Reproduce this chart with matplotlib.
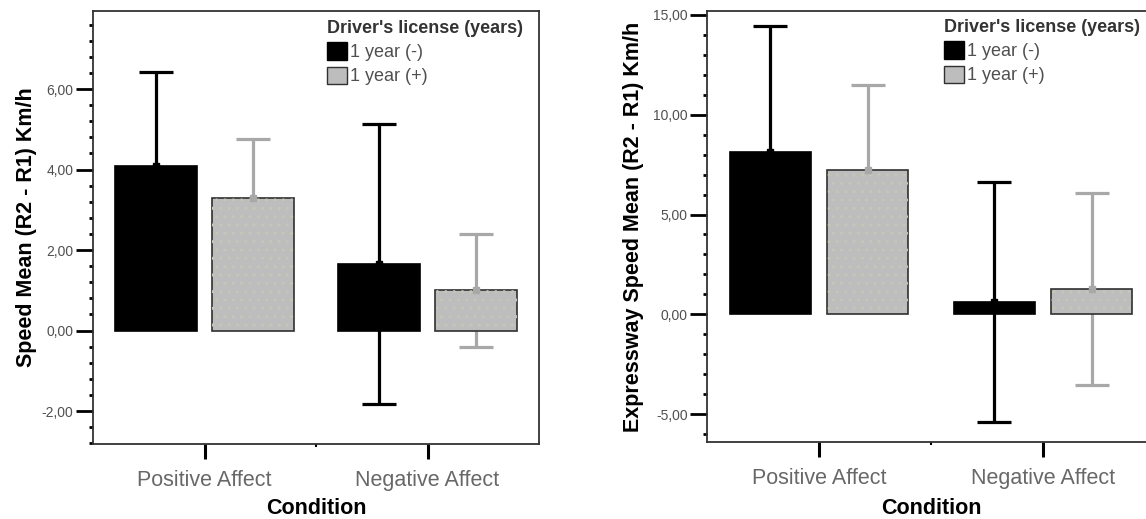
import numpy as np
import matplotlib
matplotlib.use("Agg")
import matplotlib.pyplot as plt
from matplotlib.patches import Patch
from matplotlib.ticker import MultipleLocator, FixedLocator

plt.rcParams['font.family'] = ['Liberation Sans', 'DejaVu Sans']
plt.rcParams['hatch.linewidth'] = 1.0

# data
conditions = ["Positive Affect", "Negative Affect"]
groups = ["1 year (-)", "1 year (+)"]

speed_mean_less = [4.10, 1.65]
speed_err_less = [2.33, 3.47]
speed_mean_more = [3.30, 1.00]
speed_err_more = [1.45, 1.40]

express_mean_less = [8.13, 0.62]
express_err_less = [6.30, 6.03]
express_mean_more = [7.22, 1.28]
express_err_more = [4.26, 4.80]

BLACK = "#000000"
GREY = "#bdbdbd"
GREY_ERR = "#a8a8a8"
TXT = "#505050"

fig = plt.figure(figsize=(11.46, 5.19), dpi=100)
ax1 = fig.add_axes([93 / 1146, 75 / 519, 446 / 1146, 433 / 519])
ax2 = fig.add_axes([707 / 1146, 77 / 519, 448 / 1146, 431 / 519])


def draw_panel(ax, m_less, e_less, m_more, e_more, ylim, major, minor, ylabel, xpad):
    x = np.arange(len(conditions))
    off = 0.217
    w = 0.365
    # error bars behind the bars, like SPSS does
    ax.errorbar(x - off, m_less, yerr=e_less, fmt='none', ecolor=BLACK,
                elinewidth=2.3, capsize=12, capthick=2.3, zorder=1)
    ax.errorbar(x + off, m_more, yerr=e_more, fmt='none', ecolor=GREY_ERR,
                elinewidth=2.3, capsize=12, capthick=2.3, zorder=1)
    ax.bar(x - off, m_less, width=w, color=BLACK, edgecolor=BLACK,
           linewidth=1.2, zorder=2)
    ax.bar(x + off, m_more, width=w, color=GREY, edgecolor="#303030",
           linewidth=1.2, zorder=2)
    ax.bar(x + off, m_more, width=w, color='none', edgecolor="#c6c6b6",
           linewidth=0, hatch='..', zorder=2.5)
    ax.plot(x - off, m_less, 's', color=BLACK, ms=5, zorder=3)
    ax.plot(x + off, m_more, 's', color=GREY_ERR, ms=5, zorder=3)

    ax.set_xlim(-0.5, 1.5)
    ax.set_xticks(x)
    ax.set_xticklabels(conditions, fontsize=15.5, color="#686868")
    ax.xaxis.set_minor_locator(FixedLocator([0.5]))
    ax.set_ylim(*ylim)
    ax.yaxis.set_major_locator(MultipleLocator(major))
    ax.yaxis.set_minor_locator(MultipleLocator(minor))
    ticks = ax.get_yticks()
    ax.set_yticks(ticks)
    ax.set_yticklabels([f"{v:.2f}".replace('.', ',') for v in ticks])
    ax.set_ylim(*ylim)
    ax.tick_params(axis='y', which='major', length=12, width=2, direction='out',
                   labelsize=10, labelcolor=TXT, pad=2)
    ax.tick_params(axis='y', which='minor', length=3, width=2, direction='out')
    ax.tick_params(axis='x', which='major', length=11, width=2.2, direction='out',
                   pad=8)
    ax.tick_params(axis='x', which='minor', length=2, width=1.5, direction='out')
    for s in ax.spines.values():
        s.set_linewidth(1.3)
        s.set_color("#333333")

    ax.set_xlabel("Condition", fontsize=15.5, fontweight='bold', labelpad=xpad)
    ax.set_ylabel(ylabel, fontsize=15.5, fontweight='bold')

    handles = [Patch(facecolor=BLACK, edgecolor=BLACK),
               Patch(facecolor=GREY, edgecolor="#303030")]
    leg = ax.legend(handles, groups, title="Driver's license (years)",
                    loc='upper left', frameon=False, fontsize=13,
                    handlelength=1.1, handleheight=1.1, handletextpad=0.15,
                    labelspacing=0.3, borderpad=0, borderaxespad=0)
    leg.get_title().set_fontweight('bold')
    leg.get_title().set_fontsize(13)
    leg.get_title().set_color("#333333")
    leg._legend_box.align = "left"
    for t in leg.get_texts():
        t.set_color(TXT)
    return leg


leg1 = draw_panel(ax1, speed_mean_less, speed_err_less, speed_mean_more, speed_err_more,
                  (-2.82, 7.94), 2, 0.4, "Speed Mean (R2 - R1) Km/h", 4.5)
leg1.set_bbox_to_anchor((327 / 1146, 1 - 20 / 519), transform=fig.transFigure)
ax1.yaxis.set_label_coords(-0.125, 0.5)

leg2 = draw_panel(ax2, express_mean_less, express_err_less, express_mean_more, express_err_more,
                  (-6.4, 15.2), 5, 1, "Expressway Speed Mean (R2 - R1) Km/h", 6)
leg2.set_bbox_to_anchor((944 / 1146, 1 - 19 / 519), transform=fig.transFigure)
ax2.yaxis.set_label_coords(-0.141, 0.5)

fig.savefig("out.png", dpi=100)
